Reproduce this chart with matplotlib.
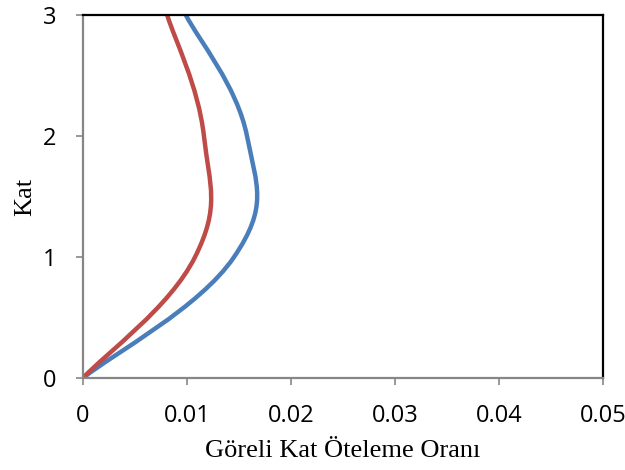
import matplotlib
matplotlib.use("Agg")
import matplotlib.pyplot as plt
from matplotlib.path import Path
from matplotlib.patches import PathPatch
import numpy as np

# story levels and drift ratios
kat = [0, 1, 2, 3]
mavi = [0.0, 0.01452, 0.01577, 0.0099]
kirmizi = [0.0, 0.01077, 0.01163, 0.0081]

x_ticks = [0, 0.01, 0.02, 0.03, 0.04, 0.05]
x_labels = ["0", "0.01", "0.02", "0.03", "0.04", "0.05"]
y_ticks = [0, 1, 2, 3]


def smooth_path(xs, ys, k=0.21):
    # excel-style smoothed line: bezier through every point
    pts = np.column_stack([xs, ys])
    n = len(pts)
    verts = [pts[0]]
    codes = [Path.MOVETO]
    for i in range(n - 1):
        p0 = pts[max(i - 1, 0)]
        p1 = pts[i]
        p2 = pts[i + 1]
        p3 = pts[min(i + 2, n - 1)]
        c1 = p1 + (p2 - p0) * k
        c2 = p2 - (p3 - p1) * k
        verts += [c1, c2, p2]
        codes += [Path.CURVE4] * 3
    return Path(verts, codes)


fig = plt.figure(figsize=(6.25, 4.7), dpi=100)
ax = fig.add_axes([0.1328, 0.1957, 0.832, 0.772])

for xs, c in [(mavi, "#4A7EBB"), (kirmizi, "#BE4B48")]:
    ax.add_patch(PathPatch(smooth_path(xs, kat), facecolor="none",
                           edgecolor=c, lw=3.2, capstyle="butt", clip_on=True))

ax.set_xlim(0, 0.05)
ax.set_ylim(0, 3)
ax.set_xticks(x_ticks)
ax.set_xticklabels(x_labels)
ax.set_yticks(y_ticks)

for s in ["top", "right"]:
    ax.spines[s].set_color("black")
    ax.spines[s].set_linewidth(1.6)
for s in ["left", "bottom"]:
    ax.spines[s].set_color("#868686")
    ax.spines[s].set_linewidth(1.6)

ax.tick_params(direction="out", length=5, width=1.2, color="#868686",
               labelsize=17)
ax.tick_params(axis="x", pad=14)
ax.tick_params(axis="y", pad=14)
for lab in ax.get_xticklabels() + ax.get_yticklabels():
    lab.set_fontfamily("Open Sans")

ax.set_xlabel("Göreli Kat Öteleme Oranı", fontfamily="Liberation Serif",
              fontsize=19, labelpad=8)
ax.set_ylabel("Kat", fontfamily="Liberation Serif", fontsize=19, labelpad=5)

fig.savefig("out.png", dpi=100)
